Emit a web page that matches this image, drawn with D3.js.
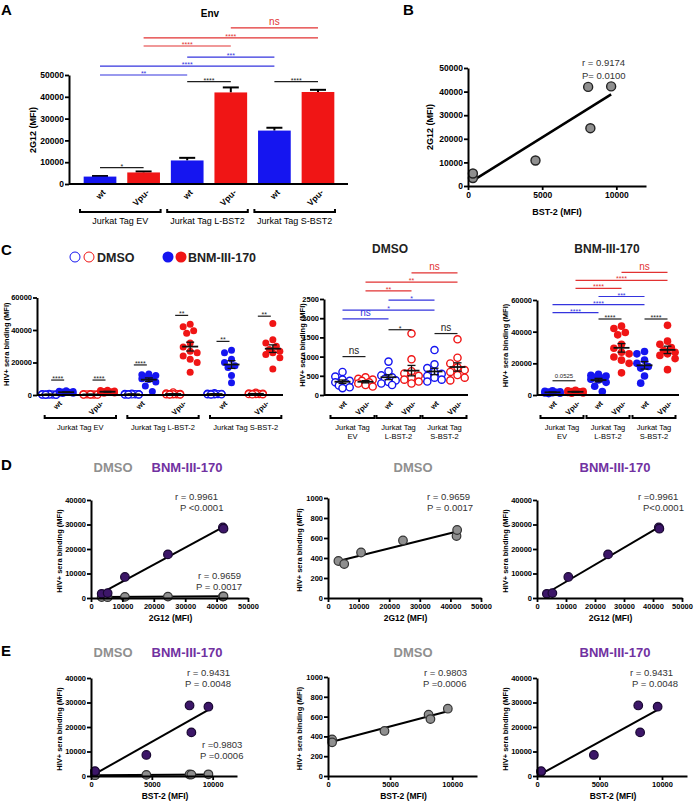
<!DOCTYPE html>
<html>
<head>
<meta charset="utf-8">
<title>Env / BST-2 figure</title>
<script src="https://cdn.jsdelivr.net/npm/d3@7"></script>
<style>
  body { margin: 0; background: #fff; }
  text { font-family: "Liberation Sans", Arial, Helvetica, sans-serif; }
</style>
</head>
<body>
<script>
// ---------- data (sample order: EV wt, EV Vpu-, L wt, L Vpu-, S wt, S Vpu-) ----------
var virusLabels = ["wt", "Vpu-", "wt", "Vpu-", "wt", "Vpu-"];
var cellLinesA = ["Jurkat Tag EV", "Jurkat Tag L-BST2", "Jurkat Tag S-BST2"];
var cellLinesC = ["Jurkat Tag EV", "Jurkat Tag L-BST-2", "Jurkat Tag S-BST-2"];
var cellLinesC2 = [["Jurkat Tag", "EV"], ["Jurkat Tag", "L-BST-2"], ["Jurkat Tag", "S-BST-2"]];

// A: 2G12 binding (MFI), mean + SEM
var env2G12 = [3400, 5300, 10800, 42000, 24500, 42200];
var env2G12Sem = [250, 450, 1200, 2300, 1300, 1000];
// comparisons [sample i, sample j, result] and the bracket height (MFI)
var sigA = [[0, 1, "*"], [2, 3, "****"], [4, 5, "****"], [0, 2, "**"], [0, 4, "****"],
            [2, 4, "***"], [1, 3, "****"], [1, 5, "****"], [3, 5, "ns"]];
var sigAHeight = [7500, 47000, 47000, 50000, 54100, 58200, 63300, 67000, 71600];

// BST-2 surface level (MFI)
var bst2 = [330, 330, 4550, 8100, 8250, 9650];

// C: HIV+ sera binding (MFI), one value per serum
var hivDmso = [
  [600, 480, 400, 370, 330, 300, 250, 200, 180],
  [460, 420, 400, 370, 330, 300, 260, 220],
  [870, 620, 510, 460, 420, 380, 340, 300, 260],
  [1600, 930, 620, 560, 500, 450, 400, 350, 300],
  [1170, 800, 700, 600, 550, 500, 450, 400, 350],
  [1450, 970, 820, 720, 650, 600, 520, 450, 380]
];
var hivBnm = [
  [2600, 2300, 2100, 1900, 1700, 1500, 1300, 1100, 900],
  [3000, 2700, 2400, 2200, 2000, 1800, 1600, 1300, 1100],
  [13000, 12500, 12000, 11200, 10500, 10000, 9500, 8000, 5500, 2200],
  [43500, 42000, 39500, 38000, 32000, 29500, 27000, 26000, 24000, 22000, 20000, 14000],
  [27500, 26000, 22000, 20000, 18000, 17000, 12000, 7500],
  [44000, 34000, 32000, 30000, 28000, 27000, 26000, 25000, 23000, 16000]
];
var sigCLeft = ["****", "****", "****", "**", "**", "**"];
var sigCLeftHeight = [9200, 9200, 18500, 49000, 33000, 48500];
var sigCMid = [[0, 1, "ns"], [2, 3, "*"], [4, 5, "ns"], [0, 2, "ns"], [0, 4, "*"],
               [2, 4, "*"], [1, 3, "**"], [1, 5, "**"], [3, 5, "ns"]];
var sigCMidHeight = [1000, 1700, 1600, 1980, 2210, 2470, 2710, 2940, 3180];
var sigCRight = [[0, 1, "0.0525"], [2, 3, "****"], [4, 5, "****"], [0, 2, "****"], [0, 4, "****"],
                 [2, 4, "***"], [1, 3, "****"], [1, 5, "****"], [3, 5, "ns"]];
var sigCRightHeight = [9000, 48000, 48000, 52000, 57100, 62200, 67300, 72400, 77500];

// D / E: mean HIV+ sera binding per sample
var hivDmsoMean = [370, 340, 455, 620, 575, 680];
var hivBnmMean = [1700, 2000, 8600, 28800, 17800, 28300];

var statB = ["r = 0.9174", "P= 0.0100"];
var statDBnm = ["r = 0.9961", "P <0.0001"];
var statDDmso = ["r = 0.9659", "P = 0.0017"];
var statDMid = ["r = 0.9659", "P = 0.0017"];
var statDRight = ["r =0.9961", "P<0.0001"];
var statEBnm = ["r = 0.9431", "P = 0.0048"];
var statEDmso = ["r =0.9803", "P =0.0006"];
var statEMid = ["r = 0.9803", "P =0.0006"];
var statERight = ["r = 0.9431", "P = 0.0048"];

// ---------- styles ----------
var BLUE = "#1515f0", RED = "#f01515";
var LINE_BLUE = "#3434de", LINE_RED = "#e23232";
var GREY = "#8f8f8f", PURPLE = "#3c1668", PURPLE_T = "#7131a1";

var svg = d3.select("body").append("svg").attr("width", 696).attr("height", 802);
svg.append("rect").attr("width", 696).attr("height", 802).attr("fill", "#fff");

function sampleColour(i) { return i % 2 === 0 ? BLUE : RED; }
function sigColour(i, j) {
  if (j - i === 1 && i % 2 === 0) return "#1e1e1e";
  return i % 2 === 0 ? LINE_BLUE : LINE_RED;
}

function text(x, y, t, size, opts) {
  opts = opts || {};
  var el = svg.append("text").attr("x", x).attr("y", y).text(t)
    .style("font-size", size + "px")
    .attr("text-anchor", opts.anchor || "start")
    .attr("fill", opts.fill || "#000");
  if (opts.bold) el.style("font-weight", "bold");
  return el;
}
function vText(x, y, t, size) {
  return svg.append("text").attr("transform", "translate(" + x + "," + y + ") rotate(-90)")
    .attr("text-anchor", "middle").style("font-size", size + "px").style("font-weight", "bold").text(t);
}
function line(x1, y1, x2, y2, col, w) {
  return svg.append("line").attr("x1", x1).attr("y1", y1).attr("x2", x2).attr("y2", y2)
    .attr("stroke", col || "#000").attr("stroke-width", w || 2);
}
function styleAxis(g, fs) {
  g.attr("font-family", null).attr("font-size", null);
  g.select(".domain").attr("stroke", "#000").attr("stroke-width", 2);
  g.selectAll(".tick line").attr("stroke", "#000").attr("stroke-width", 1.8);
  g.selectAll(".tick text").attr("fill", "#000").style("font-size", fs + "px").style("font-weight", "bold");
}
function yAxis(y, x, ticks, fs) {
  var g = svg.append("g").attr("transform", "translate(" + x + ",0)")
    .call(d3.axisLeft(y).tickValues(ticks).tickSize(4).tickSizeOuter(0).tickPadding(1).tickFormat(d3.format("d")));
  styleAxis(g, fs);
}
function xAxis(x, y0, ticks, fs) {
  var g = svg.append("g").attr("transform", "translate(0," + y0 + ")")
    .call(d3.axisBottom(x).tickValues(ticks).tickSize(4).tickSizeOuter(0).tickPadding(2).tickFormat(d3.format("d")));
  styleAxis(g, fs);
}
function bracket(x0, x1, y, lines, fs) {
  svg.append("path").attr("d", "M" + x0 + "," + (y - 3) + "V" + y + "H" + x1 + "V" + (y - 3))
    .attr("fill", "none").attr("stroke", "#000").attr("stroke-width", 2);
  lines.forEach(function(t, k) {
    text((x0 + x1) / 2, y + 12 + k * 9, t, fs, {anchor: "middle"});
  });
}
function tickLabels(cx, y0, fs) {
  virusLabels.forEach(function(t, i) {
    svg.append("text").attr("transform", "translate(" + (cx(i) + 4) + "," + (y0 + 7) + ") rotate(-45)")
      .attr("text-anchor", "end").attr("dy", "0.35em")
      .style("font-size", fs + "px").style("font-weight", "bold").text(t);
  });
}
function sigLabel(x, y, t, col) {
  var star = t.indexOf("*") === 0;
  var size = star ? 7 : (t === "ns" ? 10 : 6);
  text(x, star ? y + 1 : y - 2.5, t, size, {anchor: "middle", fill: col});
}
function drawSig(cx, y, list, heights) {
  list.forEach(function(s, k) {
    var col = sigColour(s[0], s[1]);
    var yy = y(heights[k]);
    line(cx(s[0]), yy, cx(s[1]), yy, col, 1.2);
    sigLabel((cx(s[0]) + cx(s[1])) / 2, yy, s[2], col);
  });
}
// simple beeswarm: spread points sideways when they would overlap
function swarm(values, y, r) {
  var cands = [0, -r, r, -2 * r, 2 * r];
  var placed = [], offs = [];
  var order = d3.range(values.length).sort(function(a, b) { return values[b] - values[a]; });
  order.forEach(function(i) {
    var py = y(values[i]), pick = null, best = -1, bestC = 0;
    for (var c = 0; c < cands.length; c++) {
      var dmin = Infinity;
      placed.forEach(function(p) { dmin = Math.min(dmin, Math.hypot(p[0] - cands[c], p[1] - py)); });
      if (dmin >= 1.9 * r) { pick = cands[c]; break; }
      if (dmin > best) { best = dmin; bestC = cands[c]; }
    }
    if (pick === null) pick = bestC;
    placed.push([pick, py]);
    offs[i] = pick;
  });
  return offs;
}
function fit(xs, ys) {
  var mx = d3.mean(xs), my = d3.mean(ys);
  var sxy = d3.sum(xs, function(v, i) { return (v - mx) * (ys[i] - my); });
  var sxx = d3.sum(xs, function(v) { return (v - mx) * (v - mx); });
  var b = sxy / sxx;
  return function(v) { return my + b * (v - mx); };
}

// ---------- panel letters ----------
[["A", 1, 15], ["B", 403, 15], ["C", 1, 255], ["D", 1, 470], ["E", 1, 656]].forEach(function(l) {
  text(l[1], l[2], l[0], 15, {bold: true});
});

// ---------- A ----------
var yA = d3.scaleLinear().domain([0, 50000]).range([184, 75]);
var xA = d3.scaleBand().domain(d3.range(6)).range([78, 340]).paddingInner(0.25).paddingOuter(0.13);
function cxA(i) { return xA(i) + xA.bandwidth() / 2; }

text(210, 17, "Env", 10, {bold: true, anchor: "middle"});
env2G12.forEach(function(d, i) {
  var c = cxA(i), t = yA(d + env2G12Sem[i]);
  line(c, yA(d), c, t, "#000", 2);
  line(c - 8, t, c + 8, t, "#000", 2);
});
svg.selectAll(".barA").data(env2G12).enter().append("rect").attr("class", "barA")
  .attr("x", function(d, i) { return xA(i); })
  .attr("width", xA.bandwidth())
  .attr("y", function(d) { return yA(d); })
  .attr("height", function(d) { return yA(0) - yA(d); })
  .attr("fill", function(d, i) { return sampleColour(i); });
line(69, yA(0), 348, yA(0));
yAxis(yA, 69, [0, 10000, 20000, 30000, 40000, 50000], 8.5);
vText(36, 130, "2G12 (MFI)", 9);
tickLabels(cxA, yA(0), 8.5);
cellLinesA.forEach(function(t, g) {
  bracket(cxA(2 * g) - 20, cxA(2 * g + 1) + 17, 212, [t], 9);
});
drawSig(cxA, yA, sigA, sigAHeight);

// ---------- B ----------
var xB = d3.scaleLinear().domain([0, 12000]).range([468, 646]);
var yB = d3.scaleLinear().domain([0, 50000]).range([186, 68]);
var fB = fit(bst2, env2G12);
line(xB(d3.min(bst2)), yB(fB(d3.min(bst2))), xB(d3.max(bst2)), yB(fB(d3.max(bst2))), "#000", 2.5);
svg.selectAll(".ptB").data(bst2).enter().append("circle").attr("class", "ptB")
  .attr("cx", function(d) { return xB(d); })
  .attr("cy", function(d, i) { return yB(env2G12[i]); })
  .attr("r", 4.5).attr("fill", GREY).attr("stroke", "#222").attr("stroke-width", 1.4);
yAxis(yB, 468, [0, 10000, 20000, 30000, 40000, 50000], 8.5);
xAxis(xB, 186, [0, 5000, 10000], 8.5);
vText(433, 127, "2G12 (MFI)", 9);
text(557, 215, "BST-2 (MFI)", 9, {bold: true, anchor: "middle"});
text(582, 66, statB[0], 9.5, {fill: "#333"});
text(582, 79, statB[1], 9.5, {fill: "#333"});

// ---------- C legend ----------
[[75, BLUE, false], [89, RED, false], [168, BLUE, true], [181, RED, true]].forEach(function(m) {
  svg.append("circle").attr("cx", m[0]).attr("cy", 257).attr("r", m[2] ? 5.5 : 5)
    .attr("fill", m[2] ? m[1] : "#fff").attr("stroke", m[1]).attr("stroke-width", m[2] ? 0 : 1);
});
text(97, 262, "DMSO", 12.5, {bold: true, fill: "#222"});
text(188, 262, "BNM-III-170", 12.5, {bold: true, fill: "#222"});
text(390, 253, "DMSO", 12, {bold: true, anchor: "middle", fill: "#222"});
text(607, 253, "BNM-III-170", 12, {bold: true, anchor: "middle", fill: "#222"});

// ---------- C dot panels ----------
function dotPanel(cfg) {
  var band = d3.scaleBand().domain(d3.range(6)).range(cfg.bandRange);
  var cx = function(i) { return band(i) + band.bandwidth() / 2; };
  var sets = [];
  if (cfg.dmsoDx !== undefined) sets.push({vals: hivDmso, open: true, dx: cfg.dmsoDx});
  if (cfg.bnmDx !== undefined) sets.push({vals: hivBnm, open: false, dx: cfg.bnmDx});
  var means = [];
  sets.forEach(function(s) {
    s.vals.forEach(function(vals, i) {
      var offs = swarm(vals, cfg.y, cfg.r);
      svg.append("g").selectAll("circle").data(vals).enter().append("circle")
        .attr("cx", function(d, k) { return cx(i) + s.dx + offs[k]; })
        .attr("cy", function(d) { return cfg.y(d); })
        .attr("r", cfg.r)
        .attr("fill", s.open ? "#fff" : sampleColour(i))
        .attr("stroke", sampleColour(i))
        .attr("stroke-width", s.open ? 1.4 : 0);
      var m = d3.mean(vals), se = d3.deviation(vals) / Math.sqrt(vals.length);
      means.push([cx(i) + s.dx, m, se]);
    });
  });
  means.forEach(function(m) {
    var c = m[0], y = cfg.y;
    line(c, y(m[1] - m[2]), c, y(m[1] + m[2]), "#111", 1.3);
    line(c - 4, y(m[1] + m[2]), c + 4, y(m[1] + m[2]), "#111", 1.3);
    line(c - 4, y(m[1] - m[2]), c + 4, y(m[1] - m[2]), "#111", 1.3);
    line(c - 8, y(m[1]), c + 8, y(m[1]), "#111", 1.8);
  });
  line(cfg.axisX, cfg.y(0), cfg.xEnd, cfg.y(0));
  yAxis(cfg.y, cfg.axisX, cfg.ticks, 7.5);
  vText(cfg.labelX, (cfg.y(0) + cfg.y.range()[1]) / 2 - 2, "HIV+ sera binding (MFI)", 7.5);
  tickLabels(function(i) { return cx(i) - 1; }, cfg.y(0), 7.5);
  cfg.groups.forEach(function(lines, g) {
    bracket(cx(2 * g) + cfg.brL, cx(2 * g + 1) + cfg.brR, 418, lines, 7.5);
  });
  return cx;
}

var yCL = d3.scaleLinear().domain([0, 60000]).range([395, 297.5]);
var cxL = dotPanel({
  bandRange: [37, 285], y: yCL, ticks: [0, 20000, 40000, 60000], r: 3.5,
  dmsoDx: -8.5, bnmDx: 8.5, axisX: 37, xEnd: 283, labelX: 9,
  groups: cellLinesC.map(function(t) { return [t]; }), brL: -13, brR: 17
});
sigCLeft.forEach(function(t, i) {
  var yy = yCL(sigCLeftHeight[i]);
  line(cxL(i) - 6.5, yy, cxL(i) + 6.5, yy, "#1e1e1e", 1.2);
  sigLabel(cxL(i), yy, t, "#1e1e1e");
});

var yCM = d3.scaleLinear().domain([0, 2500]).range([395, 299]);
var cxM = dotPanel({
  bandRange: [331, 469], y: yCM, ticks: [0, 500, 1000, 1500, 2000, 2500], r: 3.6,
  dmsoDx: 0, axisX: 324, xEnd: 468, labelX: 305,
  groups: cellLinesC2, brL: -12, brR: 9
});
drawSig(cxM, yCM, sigCMid, sigCMidHeight);

var yCR = d3.scaleLinear().domain([0, 60000]).range([395, 300]);
var cxR = dotPanel({
  bandRange: [541, 679], y: yCR, ticks: [0, 20000, 40000, 60000], r: 3.8,
  bnmDx: 0, axisX: 537, xEnd: 679, labelX: 508,
  groups: cellLinesC2, brL: -12, brR: 8
});
drawSig(cxR, yCR, sigCRight, sigCRightHeight);

// ---------- D / E correlation panels ----------
function corrPanel(cfg) {
  cfg.series.forEach(function(s) {
    var f = fit(cfg.xs, s.ys);
    var x0 = d3.min(cfg.xs), x1 = d3.max(cfg.xs);
    line(cfg.x(x0), cfg.y(f(x0)), cfg.x(x1), cfg.y(f(x1)), "#000", 2);
  });
  cfg.series.forEach(function(s) {
    svg.append("g").selectAll("circle").data(cfg.xs).enter().append("circle")
      .attr("cx", function(d) { return cfg.x(d); })
      .attr("cy", function(d, i) { return cfg.y(s.ys[i]); })
      .attr("r", 4.3).attr("fill", s.fill).attr("stroke", s.stroke).attr("stroke-width", 1.2);
  });
  var r = cfg.x.range(), d = cfg.y.range();
  yAxis(cfg.y, r[0], cfg.yTicks, 7.5);
  xAxis(cfg.x, d[0], cfg.xTicks, 7.5);
  vText(cfg.labelX, (d[0] + d[1]) / 2 + 2, "HIV+ sera binding (MFI)", 7.5);
  text((r[0] + r[1]) / 2 + 1, d[0] + 23, cfg.xLabel, 8.5, {bold: true, anchor: "middle"});
  cfg.stats.forEach(function(st) {
    text(st[0], st[1], st[2][0], 9.5, {fill: "#333"});
    text(st[3], st[1] + 11, st[2][1], 9.5, {fill: "#333"});
  });
}
var grey = {fill: GREY, stroke: "#333"};
var purple = {fill: PURPLE, stroke: "#1a0833"};
var ticks40k = [0, 10000, 20000, 30000, 40000];
var ticks1k = [0, 200, 400, 600, 800, 1000];
var ticks50k = [0, 10000, 20000, 30000, 40000, 50000];

// titles
[[472, 113, "DMSO", GREY], [472, 187, "BNM-III-170", PURPLE_T], [472, 413, "DMSO", GREY], [472, 615, "BNM-III-170", PURPLE_T],
 [657, 113, "DMSO", GREY], [657, 187, "BNM-III-170", PURPLE_T], [657, 413, "DMSO", GREY], [657, 615, "BNM-III-170", PURPLE_T]]
  .forEach(function(t) { text(t[1], t[0], t[2], 13, {bold: true, anchor: "middle", fill: t[3]}); });

// D
corrPanel({
  x: d3.scaleLinear().domain([0, 50000]).range([91, 248]), y: d3.scaleLinear().domain([0, 40000]).range([598, 500]),
  xs: env2G12, series: [{ys: hivDmsoMean, fill: grey.fill, stroke: grey.stroke}, {ys: hivBnmMean, fill: purple.fill, stroke: purple.stroke}],
  xTicks: ticks50k, yTicks: ticks40k, labelX: 62, xLabel: "2G12 (MFI)",
  stats: [[175, 500, statDBnm, 180], [198, 579, statDDmso, 196]]
});
corrPanel({
  x: d3.scaleLinear().domain([0, 50000]).range([328, 481]), y: d3.scaleLinear().domain([0, 1000]).range([598, 498]),
  xs: env2G12, series: [{ys: hivDmsoMean, fill: grey.fill, stroke: grey.stroke}],
  xTicks: ticks50k, yTicks: ticks1k, labelX: 302, xLabel: "2G12 (MFI)",
  stats: [[427, 500, statDMid, 427]]
});
corrPanel({
  x: d3.scaleLinear().domain([0, 50000]).range([537, 682]), y: d3.scaleLinear().domain([0, 40000]).range([598, 500]),
  xs: env2G12, series: [{ys: hivBnmMean, fill: purple.fill, stroke: purple.stroke}],
  xTicks: ticks50k, yTicks: ticks40k, labelX: 508, xLabel: "2G12 (MFI)",
  stats: [[638, 500, statDRight, 643]]
});

// E
corrPanel({
  x: d3.scaleLinear().domain([0, 12000]).range([91, 237]), y: d3.scaleLinear().domain([0, 40000]).range([776, 678]),
  xs: bst2, series: [{ys: hivDmsoMean, fill: grey.fill, stroke: grey.stroke}, {ys: hivBnmMean, fill: purple.fill, stroke: purple.stroke}],
  xTicks: [0, 5000, 10000], yTicks: ticks40k, labelX: 62, xLabel: "BST-2 (MFI)",
  stats: [[187, 676, statEBnm, 185], [202, 748, statEDmso, 200]]
});
corrPanel({
  x: d3.scaleLinear().domain([0, 12000]).range([328, 477]), y: d3.scaleLinear().domain([0, 1000]).range([776, 677]),
  xs: bst2, series: [{ys: hivDmsoMean, fill: grey.fill, stroke: grey.stroke}],
  xTicks: [0, 5000, 10000], yTicks: ticks1k, labelX: 302, xLabel: "BST-2 (MFI)",
  stats: [[424, 676, statEMid, 423]]
});
corrPanel({
  x: d3.scaleLinear().domain([0, 12000]).range([537, 687]), y: d3.scaleLinear().domain([0, 40000]).range([776, 678]),
  xs: bst2, series: [{ys: hivBnmMean, fill: purple.fill, stroke: purple.stroke}],
  xTicks: [0, 5000, 10000], yTicks: ticks40k, labelX: 508, xLabel: "BST-2 (MFI)",
  stats: [[630, 676, statERight, 632]]
});
</script>
</body>
</html>
